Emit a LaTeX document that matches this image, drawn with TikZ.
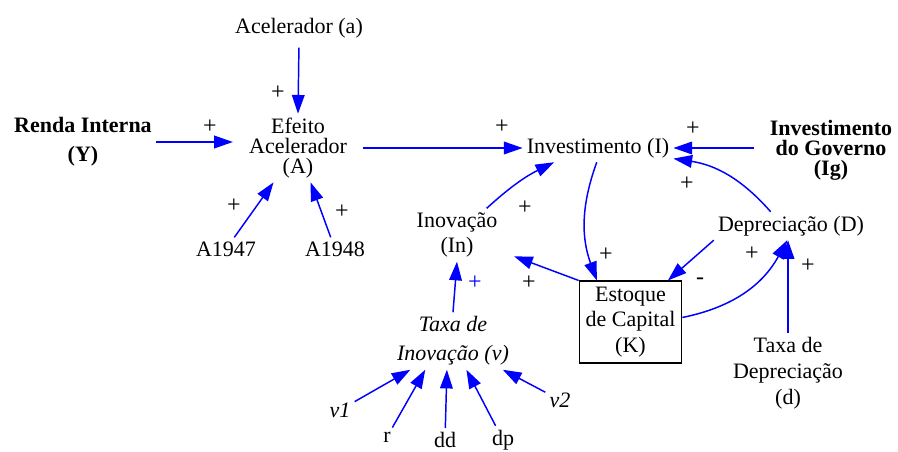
\documentclass[tikz,border=0pt]{standalone}
\usepackage{fontspec}
\setmainfont{Liberation Serif}
\usetikzlibrary{arrows.meta,positioning}
\definecolor{cldblue}{HTML}{0000FF}
\definecolor{cldink}{HTML}{000000}

\tikzset{
  var/.style={font=\fontsize{16.5}{19}\selectfont, align=center, inner sep=3pt, text=cldink},
  stock/.style={var, draw=cldink, line width=0.8pt, minimum width=77pt, minimum height=61.5pt},
  link/.style={draw=cldblue, line width=1.1pt, -{Triangle[length=14pt,width=9.5pt]}},
  pol/.style={font=\fontsize{18}{20}\selectfont, inner sep=0pt}
}

\begin{document}
\begin{tikzpicture}[x=0.75pt,y=-0.75pt]
  \useasboundingbox (0,0) rectangle (898,452);
  % variables
  \node[var] (acc) at (299,28) {Acelerador (a)};
  \node[var,font=\fontsize{16.5}{21.75}\selectfont\bfseries] (renda) at (83,142) {Renda Interna\\(Y)};
  \node[var,font=\fontsize{16.5}{15}\selectfont] (efeito) at (298,148) {Efeito\\Acelerador\\(A)};
  \node[var] (inv) at (598,148) {Investimento (I)};
  \node[var,font=\fontsize{16.5}{15}\selectfont\bfseries] (gov) at (831,150) {Investimento\\do Governo\\(Ig)};
  \node[var] (a47) at (226,249) {A1947};
  \node[var] (a48) at (335,249) {A1948};
  \node[var] (dep) at (791,226) {Depreciação (D)};
  \node[var] (inov) at (457,235) {Inovação\\(In)};
  \node[stock] (estoque) at (630.5,322) {Estoque\\de Capital\\(K)};
  \node[var,font=\fontsize{16.5}{19.5}\selectfont] (taxad) at (788,373) {Taxa de\\Depreciação\\(d)};
  \node[var,font=\fontsize{16.5}{21.75}\selectfont\itshape] (taxav) at (453,341) {Taxa de\\Inovação (v)};
  \node[var,font=\fontsize{16.5}{19}\selectfont\itshape] (v1) at (340,410) {v1};
  \node[var] (r) at (387,437) {r};
  \node[var] (dd) at (445,440) {dd};
  \node[var] (dp) at (503,440) {dp};
  \node[var,font=\fontsize{16.5}{19}\selectfont\itshape] (v2) at (560,400) {v2};

  % links
  \draw[link,shorten <=4pt] (acc.south) -- (efeito.north);
  \draw[link,shorten >=9pt] (renda.east) -- (renda.east -| efeito.west);
  \draw[link,shorten <=9pt] (efeito.east |- inv.west) -- (inv.west);
  \draw[link,shorten <=9pt] (gov.west |- inv.east) -- (inv.east);
  \draw[link] (a47) -- (efeito);
  \draw[link] (a48) -- (efeito);
  \draw[link] (dep.145) to[bend right=20] (inv.-8);
  \draw[link] (inov.42) to[bend left=8] (inv.198);
  \draw[link] (inv.265) to[bend right=20] (estoque.129);
  \draw[link,shorten >=10pt] (estoque.north west) -- (inov);
  \draw[link] (dep.south west) -- (estoque.48);
  \draw[link] (estoque.5) to[bend right=25] (dep.255);
  \draw[link] (taxad.north) -- (taxad.north |- dep.south);
  \draw[link] (taxav.north) -- (inov.south);
  \draw[link] (v1) -- (taxav.214);
  \draw[link] (r) -- (taxav.226);
  \draw[link] (dd) -- (taxav.258);
  \draw[link] (dp) -- (taxav.295);
  \draw[link] (v2) -- (taxav.330);

  % polarities
  \foreach \pos [count=\i] in {(278,93),(210,127),(502,127),(234,206),(342,212),(693,129),(687,184),(525,208),(606,255),(529,283),(752,254),(808,266)}
    \node[pol] (p\i) at \pos {+};
  \node[pol,text=cldblue] (pv) at (475,283) {+};
  \node[pol] (pm) at (700,281) {-};
\end{tikzpicture}
\end{document}
